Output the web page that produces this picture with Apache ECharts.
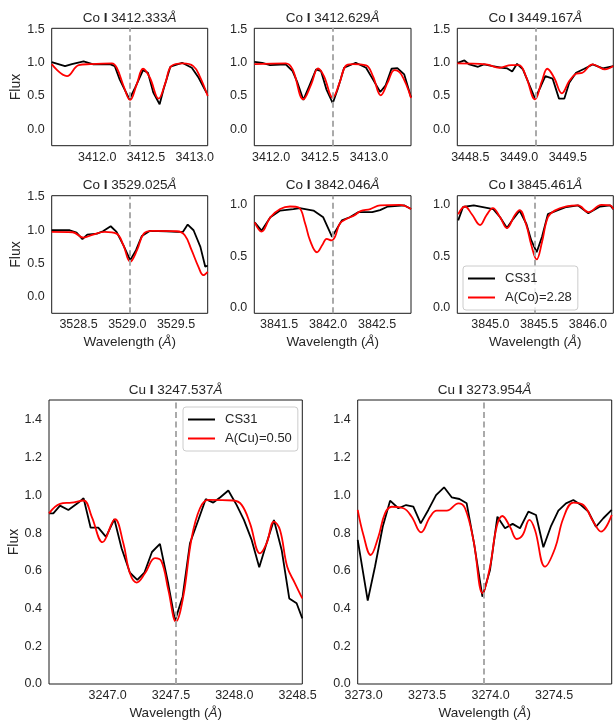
<!DOCTYPE html>
<html lang="en">
<head>
    <meta charset="UTF-8">
    <title>Co / Cu line fits</title>
    <style>
        body { margin: 0; background: #fff; }
        #main { width: 614px; height: 721px; }
    </style>
</head>
<body>
    <div id="main"></div>
    <script src="https://cdn.jsdelivr.net/npm/echarts@6/dist/echarts.min.js"></script>
    <script>
        // line centres (Å) and element of each panel
        const lineCenters = [3412.333, 3412.629, 3449.167, 3529.025, 3842.046, 3845.461, 3247.537, 3273.954];
        const elements = ['Co', 'Co', 'Co', 'Co', 'Co', 'Co', 'Cu', 'Cu'];
        const starName = 'CS31';
        const synthNames = ['A(Co)=2.28', 'A(Cu)=0.50'];

        // x tick labels per panel
        const xTicks = [
            [3412.0, 3412.5, 3413.0],
            [3412.0, 3412.5, 3413.0],
            [3448.5, 3449.0, 3449.5],
            [3528.5, 3529.0, 3529.5],
            [3841.5, 3842.0, 3842.5],
            [3845.0, 3845.5, 3846.0],
            [3247.0, 3247.5, 3248.0, 3248.5],
            [3273.0, 3273.5, 3274.0, 3274.5]
        ];
        const yTicksWide = [0, 0.5, 1.0, 1.5];
        const yTicksNarrow = [0, 0.5, 1.0];
        const yTicksBig = [0, 0.2, 0.4, 0.6, 0.8, 1.0, 1.2, 1.4];

        // observed spectrum (black) and synthetic (red), [wavelength, flux]
        const obs1 = [[3411.533,1.01],[3411.67,0.95],[3411.74,0.98],[3411.86,1.02],[3411.96,0.975],[3412.13,0.98],[3412.18,0.95],[3412.23,0.75],[3412.33,0.45],[3412.39,0.63],[3412.47,0.89],[3412.52,0.85],[3412.575,0.55],[3412.64,0.375],[3412.68,0.6],[3412.75,0.94],[3412.87,1.0],[3412.97,0.925],[3413.04,0.775],[3413.12,0.55]];
        const syn1 = [[3411.533,0.98],[3411.69,0.8],[3411.81,0.965],[3411.93,0.98],[3412.15,0.99],[3412.2,0.925],[3412.27,0.65],[3412.337,0.44],[3412.405,0.675],[3412.47,0.91],[3412.54,0.775],[3412.63,0.46],[3412.70,0.70],[3412.76,0.95],[3412.88,0.99],[3412.985,0.95],[3413.05,0.8],[3413.133,0.5]];
        const obs2 = [[3411.83,1.015],[3411.91,1.0],[3411.99,0.965],[3412.15,0.975],[3412.22,0.875],[3412.27,0.70],[3412.33,0.44],[3412.39,0.65],[3412.46,0.90],[3412.51,0.875],[3412.565,0.60],[3412.63,0.39],[3412.68,0.6],[3412.746,0.925],[3412.865,1.0],[3412.97,0.925],[3413.04,0.75],[3413.115,0.56],[3413.17,0.66],[3413.23,0.91],[3413.29,0.92],[3413.36,0.825],[3413.429,0.48]];
        const syn2 = [[3411.83,0.98],[3412.15,0.99],[3412.22,0.90],[3412.33,0.45],[3412.41,0.675],[3412.48,0.915],[3412.54,0.80],[3412.63,0.475],[3412.70,0.70],[3412.76,0.95],[3412.83,0.98],[3412.97,0.96],[3413.04,0.8],[3413.12,0.51],[3413.19,0.70],[3413.26,0.89],[3413.33,0.825],[3413.429,0.47]];
        const obs3 = [[3448.37,1.0],[3448.44,1.035],[3448.49,0.975],[3448.58,0.94],[3448.64,0.975],[3448.73,0.95],[3448.83,0.925],[3448.88,0.915],[3448.93,0.87],[3448.98,0.985],[3449.04,0.90],[3449.09,0.725],[3449.164,0.46],[3449.225,0.65],[3449.27,0.80],[3449.345,0.76],[3449.41,0.46],[3449.465,0.46],[3449.515,0.70],[3449.585,0.85],[3449.67,0.91],[3449.755,0.975],[3449.86,0.915],[3449.967,0.95]];
        const syn3 = [[3448.367,0.99],[3448.66,0.975],[3448.80,0.925],[3448.92,0.965],[3449.0,0.965],[3449.07,0.80],[3449.164,0.45],[3449.235,0.725],[3449.29,0.91],[3449.36,0.775],[3449.44,0.54],[3449.515,0.725],[3449.585,0.835],[3449.65,0.85],[3449.755,0.975],[3449.88,0.9],[3449.967,0.95]];
        const obs4 = [[3528.225,1.0],[3528.41,1.0],[3528.48,0.965],[3528.54,0.865],[3528.59,0.935],[3528.69,0.95],[3528.75,0.985],[3528.83,1.06],[3528.89,0.975],[3528.96,0.775],[3529.03,0.55],[3529.09,0.70],[3529.15,0.915],[3529.23,0.99],[3529.40,0.985],[3529.51,0.975],[3529.57,0.975],[3529.62,1.085],[3529.68,1.0],[3529.75,0.75],[3529.80,0.45],[3529.825,0.47]];
        const syn4 = [[3528.225,0.975],[3528.44,0.97],[3528.55,0.89],[3528.65,0.935],[3528.77,0.975],[3528.89,0.95],[3528.96,0.775],[3529.03,0.525],[3529.10,0.70],[3529.17,0.95],[3529.26,0.99],[3529.51,0.985],[3529.59,0.925],[3529.66,0.70],[3529.73,0.45],[3529.78,0.325],[3529.825,0.375]];
        const obs5 = [[3841.25,0.83],[3841.32,0.75],[3841.41,0.88],[3841.51,0.945],[3841.645,0.96],[3841.71,0.97],[3841.85,0.945],[3841.95,0.88],[3842.04,0.69],[3842.09,0.77],[3842.14,0.85],[3842.22,0.88],[3842.31,0.93],[3842.45,0.93],[3842.53,0.95],[3842.61,0.985],[3842.78,0.995],[3842.846,0.96]];
        const syn5 = [[3841.25,0.83],[3841.32,0.74],[3841.41,0.88],[3841.51,0.96],[3841.61,0.985],[3841.70,0.975],[3841.765,0.82],[3841.815,0.655],[3841.886,0.54],[3841.94,0.61],[3841.985,0.67],[3842.036,0.655],[3842.07,0.69],[3842.12,0.82],[3842.19,0.865],[3842.27,0.90],[3842.33,0.94],[3842.43,0.96],[3842.53,0.995],[3842.73,1.0],[3842.846,0.96]];
        const obs6 = [[3844.67,0.85],[3844.72,0.98],[3844.83,0.995],[3845.03,0.96],[3845.10,0.88],[3845.17,0.775],[3845.235,0.865],[3845.30,0.945],[3845.37,0.815],[3845.42,0.655],[3845.475,0.54],[3845.53,0.69],[3845.59,0.91],[3845.68,0.945],[3845.78,0.98],[3845.90,0.995],[3846.005,0.92],[3846.125,0.985],[3846.23,0.995],[3846.261,0.96]];
        const syn6 = [[3844.67,0.91],[3844.74,0.985],[3844.81,0.91],[3844.895,0.805],[3844.96,0.90],[3845.025,0.97],[3845.10,0.88],[3845.17,0.775],[3845.25,0.90],[3845.30,0.95],[3845.37,0.80],[3845.42,0.61],[3845.475,0.47],[3845.53,0.64],[3845.59,0.88],[3845.66,0.945],[3845.78,0.985],[3845.90,0.995],[3846.005,0.93],[3846.14,1.0],[3846.23,0.995],[3846.261,0.96]];
        const obs7 = [[3246.537,0.905],[3246.571,0.905],[3246.624,0.946],[3246.69,0.923],[3246.77,0.962],[3246.81,0.985],[3246.866,0.829],[3246.926,0.829],[3246.987,0.78],[3247.053,0.874],[3247.11,0.72],[3247.176,0.59],[3247.234,0.552],[3247.29,0.59],[3247.35,0.70],[3247.413,0.743],[3247.479,0.53],[3247.532,0.336],[3247.592,0.463],[3247.65,0.746],[3247.716,0.87],[3247.774,0.98],[3247.834,0.962],[3247.89,0.99],[3247.953,1.026],[3248.018,0.95],[3248.076,0.87],[3248.137,0.764],[3248.197,0.619],[3248.255,0.746],[3248.313,0.87],[3248.374,0.711],[3248.434,0.454],[3248.492,0.428],[3248.537,0.348]];
        const syn7 = [[3246.537,0.905],[3246.624,0.955],[3246.716,0.962],[3246.81,0.973],[3246.874,0.888],[3246.96,0.752],[3247.058,0.874],[3247.124,0.746],[3247.176,0.587],[3247.229,0.538],[3247.295,0.587],[3247.374,0.667],[3247.426,0.649],[3247.479,0.499],[3247.54,0.331],[3247.597,0.463],[3247.663,0.773],[3247.729,0.932],[3247.795,0.976],[3247.992,0.973],[3248.058,0.95],[3248.124,0.852],[3248.203,0.693],[3248.255,0.746],[3248.313,0.861],[3248.361,0.817],[3248.418,0.622],[3248.479,0.534],[3248.537,0.454]];
        const obs8 = [[3272.954,0.764],[3273.033,0.442],[3273.09,0.622],[3273.151,0.834],[3273.209,0.972],[3273.274,0.932],[3273.335,0.949],[3273.392,0.94],[3273.45,0.852],[3273.51,0.923],[3273.571,1.002],[3273.634,1.043],[3273.694,0.99],[3273.755,0.981],[3273.812,0.958],[3273.87,0.746],[3273.936,0.463],[3273.996,0.605],[3274.054,0.887],[3274.114,0.826],[3274.174,0.849],[3274.232,0.826],[3274.298,0.914],[3274.358,0.896],[3274.416,0.725],[3274.474,0.834],[3274.534,0.919],[3274.594,0.958],[3274.652,0.976],[3274.712,0.949],[3274.77,0.914],[3274.83,0.834],[3274.888,0.879],[3274.954,0.923]];
        const syn8 = [[3272.954,0.923],[3272.999,0.79],[3273.056,0.684],[3273.117,0.781],[3273.169,0.905],[3273.222,0.94],[3273.314,0.932],[3273.379,0.887],[3273.453,0.804],[3273.524,0.887],[3273.576,0.919],[3273.655,0.919],[3273.747,0.958],[3273.799,0.932],[3273.865,0.764],[3273.938,0.481],[3273.996,0.622],[3274.048,0.834],[3274.093,0.891],[3274.153,0.834],[3274.206,0.769],[3274.253,0.79],[3274.306,0.87],[3274.35,0.817],[3274.429,0.622],[3274.508,0.72],[3274.573,0.879],[3274.652,0.962],[3274.731,0.949],[3274.809,0.861],[3274.87,0.808],[3274.954,0.896]];

        const observed = [obs1, obs2, obs3, obs4, obs5, obs6, obs7, obs8];
        const synthetic = [syn1, syn2, syn3, syn4, syn5, syn6, syn7, syn8];

        const FONT = "'Liberation Sans', Arial, sans-serif";
        const TXT = '#262626';

        // panel boxes: left, top, width, height, half window (Å), y range, y ticks, axis names
        const panels = [
            { l: 51.7,  t: 28.3,  w: 156,   h: 117.4, half: 0.8, ymin: -0.25,  ymax: 1.52, yt: yTicksWide,   flux: true,  wave: false },
            { l: 254.3, t: 28.3,  w: 156.7, h: 117.4, half: 0.8, ymin: -0.25,  ymax: 1.52, yt: yTicksWide,   flux: false, wave: false },
            { l: 457.3, t: 28.3,  w: 156,   h: 117.4, half: 0.8, ymin: -0.25,  ymax: 1.52, yt: yTicksWide,   flux: false, wave: false },
            { l: 51.7,  t: 195.7, w: 156,   h: 117.6, half: 0.8, ymin: -0.25,  ymax: 1.52, yt: yTicksWide,   flux: true,  wave: true },
            { l: 254.3, t: 195.7, w: 156.7, h: 117.6, half: 0.8, ymin: -0.054, ymax: 1.09, yt: yTicksNarrow, flux: false, wave: true },
            { l: 457.3, t: 195.7, w: 156,   h: 117.6, half: 0.8, ymin: -0.054, ymax: 1.09, yt: yTicksNarrow, flux: false, wave: true },
            { l: 49,    t: 400,   w: 253.3, h: 284,   half: 1.0, ymin: 0,      ymax: 1.506, yt: yTicksBig,   flux: true,  wave: true },
            { l: 357.7, t: 400,   w: 254,   h: 284,   half: 1.0, ymin: 0,      ymax: 1.506, yt: yTicksBig,   flux: false, wave: true }
        ];

        const rich = {
            n: { fontFamily: FONT, fontSize: 13.5, color: TXT, fontWeight: 'normal' },
            b: { fontFamily: FONT, fontSize: 13.5, color: TXT, fontWeight: 'bold' },
            i: { fontFamily: FONT, fontSize: 13.5, color: TXT, fontWeight: 'normal', fontStyle: 'italic' }
        };

        const grids = [], xAxes = [], yAxes = [], series = [], titles = [];

        panels.forEach((p, k) => {
            const c = lineCenters[k];
            grids.push({ left: p.l, top: p.t, width: p.w, height: p.h, show: true,
                borderColor: '#1a1a1a', borderWidth: 1, backgroundColor: 'transparent' });

            titles.push({
                text: '{n|' + elements[k] + ' }{b|I}{n| ' + c.toFixed(3) + '}{i|Å}',
                left: p.l + p.w / 2, top: p.t - 17, textAlign: 'center', padding: 0,
                textStyle: { fontWeight: 'normal', fontFamily: FONT, fontSize: 13.5, color: TXT, rich: rich }
            });

            xAxes.push({
                gridIndex: k, type: 'value', min: c - p.half, max: c + p.half,
                axisLine: { show: false }, axisTick: { show: false }, splitLine: { show: false },
                axisLabel: { customValues: xTicks[k], formatter: v => v.toFixed(1), fontSize: 12.5,
                    fontFamily: FONT, color: TXT, margin: 5 },
                name: p.wave ? '{n|Wavelength (}{i|Å}{n|)}' : '',
                nameLocation: 'middle', nameGap: 22,
                nameTextStyle: { fontWeight: 'normal', rich: rich }
            });
            yAxes.push({
                gridIndex: k, type: 'value', min: p.ymin, max: p.ymax,
                axisLine: { show: false }, axisTick: { show: false }, splitLine: { show: false },
                axisLabel: { customValues: p.yt, formatter: v => v.toFixed(1), fontSize: 12.5,
                    fontFamily: FONT, color: TXT, margin: 7 },
                name: p.flux ? 'Flux' : '',
                nameLocation: 'middle', nameGap: k >= 6 ? 26 : 23,
                nameTextStyle: { fontFamily: FONT, fontSize: 14, color: TXT }
            });

            series.push({
                type: 'line', name: starName, xAxisIndex: k, yAxisIndex: k,
                data: observed[k], symbol: 'none', color: '#000',
                lineStyle: { color: '#000', width: 1.8 }, animation: false, z: 3,
                markLine: {
                    silent: true, symbol: 'none', label: { show: false }, animation: false,
                    lineStyle: { color: '#aaaaaa', type: [6, 3.5], width: 2 },
                    data: [{ xAxis: c }]
                }
            });
            series.push({
                type: 'line', name: synthNames[k >= 6 ? 1 : 0], xAxisIndex: k, yAxisIndex: k,
                data: synthetic[k], symbol: 'none', smooth: 0.4, color: '#ff0000',
                lineStyle: { color: '#ff0000', width: 1.8 }, animation: false, z: 4
            });
        });

        const legendBase = {
            orient: 'vertical', icon: 'rect', itemWidth: 27, itemHeight: 2, itemGap: 4, z: 10,
            backgroundColor: 'rgba(255,255,255,0.8)', borderColor: '#cccccc', borderWidth: 1,
            borderRadius: 3, selectedMode: false,
            textStyle: { fontFamily: FONT, fontSize: 13, color: TXT, lineHeight: 15, padding: [0, 0, 0, 5] }
        };

        const chart = echarts.init(document.getElementById('main'), null, { renderer: 'canvas' });
        chart.setOption({
            backgroundColor: '#fff',
            animation: false,
            title: titles,
            grid: grids,
            xAxis: xAxes,
            yAxis: yAxes,
            legend: [
                Object.assign({}, legendBase, { data: [starName, synthNames[0]], left: 463, top: 266, padding: [5, 6, 5, 5] }),
                Object.assign({}, legendBase, { data: [starName, synthNames[1]], left: 183, top: 407, padding: [5, 6, 5, 5] })
            ],
            series: series
        });
    </script>
</body>
</html>
